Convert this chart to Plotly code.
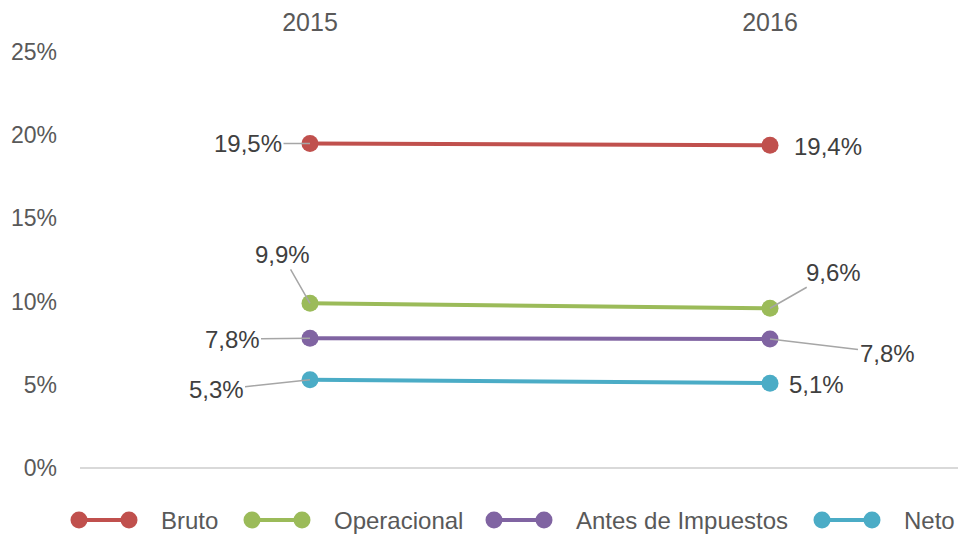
import plotly.graph_objects as go

years = ["2015", "2016"]
series_names = ["Bruto", "Operacional", "Antes de Impuestos", "Neto"]
bruto = [19.5, 19.4]
operacional = [9.9, 9.6]
antes = [7.8, 7.75]
neto = [5.3, 5.1]
label_bruto = ["19,5%", "19,4%"]
label_oper = ["9,9%", "9,6%"]
label_antes = ["7,8%", "7,8%"]
label_neto = ["5,3%", "5,1%"]
y_ticks = [0, 5, 10, 15, 20, 25]
y_tick_text = ["0%", "5%", "10%", "15%", "20%", "25%"]

colors = ["#C0504D", "#9BBB59", "#8064A2", "#4BACC6"]
values = [bruto, operacional, antes, neto]
labels = [label_bruto, label_oper, label_antes, label_neto]

W, H = 958, 534
ML, MR, MT, MB = 80, 0, 52, 66
FONT = "Liberation Sans, Arial"

fig = go.Figure()
for name, vals, col in zip(series_names, values, colors):
    fig.add_trace(go.Scatter(
        x=years, y=vals, name=name, mode="lines+markers",
        line=dict(color=col, width=4),
        marker=dict(color=col, size=17),
        showlegend=False,
    ))

# label offsets (pixels) [series][point]: (ax, ay, arrow)
offsets = [
    [(-62, 0, True), (58, 1, False)],
    [(-28, -49, True), (63, -36, True)],
    [(-78, 1, True), (117, 14, True)],
    [(-94, 10, True), (46, 1, False)],
]
for vals, labs, offs in zip(values, labels, offsets):
    for i in range(2):
        ax, ay, arr = offs[i]
        common = dict(x=i, y=vals[i], xref="x", yref="y", text=labs[i],
                      font=dict(size=24, color="#404040", family=FONT))
        if arr:
            fig.add_annotation(**common, showarrow=True, arrowhead=0, arrowwidth=1.5,
                               arrowcolor="#A6A6A6", ax=ax, ay=ay, standoff=0)
        else:
            fig.add_annotation(**common, showarrow=False, xshift=ax, yshift=-ay)

# custom legend (line with two dots + text), positioned in paper coordinates
plot_w = W - ML - MR
plot_h = H - MT - MB
def px_x(p):
    return (p - ML) / plot_w
def px_y(p):
    return (H - MB - p) / plot_h

legend_starts = [79, 252, 494, 822]
leg_y = 520
for name, col, x0 in zip(series_names, colors, legend_starts):
    x1 = x0 + 50
    fig.add_shape(type="line", xref="paper", yref="paper",
                  x0=px_x(x0), x1=px_x(x1), y0=px_y(leg_y), y1=px_y(leg_y),
                  line=dict(color=col, width=4))
    for cx in (x0, x1):
        fig.add_shape(type="circle", xref="paper", yref="paper",
                      x0=px_x(cx - 8.5), x1=px_x(cx + 8.5),
                      y0=px_y(leg_y + 8.5), y1=px_y(leg_y - 8.5),
                      fillcolor=col, line=dict(color=col, width=0))
    fig.add_annotation(xref="paper", yref="paper", x=px_x(x1 + 30), y=px_y(leg_y),
                       xanchor="left", yanchor="middle", text=name, showarrow=False,
                       font=dict(size=24, color="#595959", family=FONT))

fig.update_layout(
    width=W, height=H,
    margin=dict(l=ML, r=MR, t=MT, b=MB, autoexpand=False),
    paper_bgcolor="white", plot_bgcolor="white",
    font=dict(family=FONT, size=23, color="#595959"),
    showlegend=False,
    xaxis=dict(type="category", side="top", range=[-0.5, 1.4087],
               showgrid=False, zeroline=False, showline=False, ticks="",
               tickfont=dict(size=25, color="#595959"), ticklabelstandoff=15),
    yaxis=dict(range=[0, 25], tickvals=y_ticks, ticktext=y_tick_text,
               showgrid=False, zeroline=True, zerolinecolor="#D9D9D9", zerolinewidth=2,
               showline=False, ticks="", ticklabelstandoff=22,
               tickfont=dict(size=23, color="#595959")),
)

fig.write_html("out.html", config={"displayModeBar": False},
               post_script="document.body.style.margin='0px';document.body.style.overflow='hidden';")
